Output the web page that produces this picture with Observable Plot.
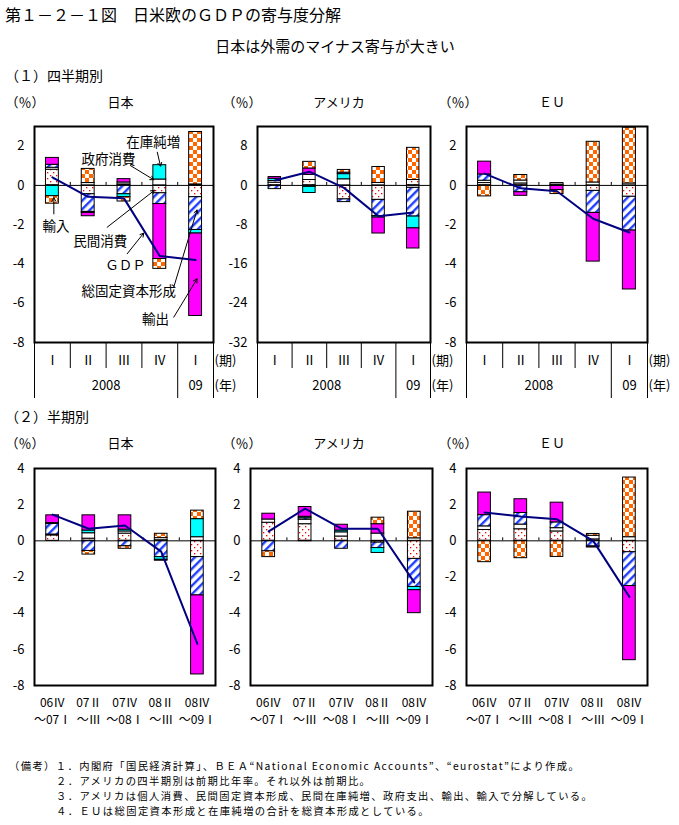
<!DOCTYPE html>
<html><head><meta charset="utf-8">
<script src="https://cdn.jsdelivr.net/npm/d3@7"></script>
<script src="https://cdn.jsdelivr.net/npm/@observablehq/plot@0.6"></script>
<style>
body{margin:0;background:#fff;}
#root{position:relative;width:679px;height:825px;background:#fff;overflow:hidden;font-family:"Noto Sans CJK JP",sans-serif;color:#000;}
.t{position:absolute;white-space:nowrap;line-height:1;}
</style></head><body>
<svg width="0" height="0" style="position:absolute"><defs>
<pattern id="checker" width="8" height="8" patternUnits="userSpaceOnUse">
<rect width="8" height="8" fill="white"/><rect width="4" height="4" fill="#FF6600"/><rect x="4" y="4" width="4" height="4" fill="#FF6600"/>
</pattern>
<pattern id="hatch" width="6" height="6" patternUnits="userSpaceOnUse" patternTransform="rotate(45)">
<rect width="6" height="6" fill="white"/><rect width="2.4" height="6" fill="#1F3FFF"/>
</pattern>
<pattern id="dots" width="6" height="6" patternUnits="userSpaceOnUse">
<rect width="6" height="6" fill="white"/><rect x="1" y="1" width="1.3" height="1.3" fill="#FF0000"/><rect x="4" y="4" width="1.3" height="1.3" fill="#FF0000"/>
</pattern>
</defs></svg>
<div id="root"></div>
<script>
// ---- components (stack order) ----
const comps = ["民間消費","政府消費","総固定資本形成","在庫純増","輸出","輸入"];

// ---- (1) quarterly: Japan ----
const jpQ_pc   = [0.8, -0.45, 0.05, -0.4, -0.6];
const jpQ_gov  = [0.1, 0.12, 0.1, 0.3, 0.05];
const jpQ_gfcf = [0.15, -0.9, -0.45, -0.55, -1.67];
const jpQ_inv  = [-0.55, -0.05, -0.15, 0.73, -0.18];
const jpQ_exp  = [0.35, -0.17, 0.17, -2.8, -4.2];
const jpQ_imp  = [-0.38, 0.72, -0.22, -0.5, 2.67];
const jpQ_gdp  = [0.41, -0.58, -0.66, -3.6, -3.8];
// ---- (1) quarterly: USA (annualized) ----
const usQ_pc   = [0.55, 1.1, -2.85, -2.95, 1.1];
const usQ_gov  = [0.35, 1.05, 1.25, 0.5, -0.5];
const usQ_gfcf = [-0.75, -0.3, -0.55, -3.3, -5.85];
const usQ_inv  = [0.45, -1.25, 1.05, -0.3, -2.4];
const usQ_exp  = [0.35, 1.3, 0.3, -3.25, -4.1];
const usQ_imp  = [0, 1.35, 0.55, 3.25, 6.55];
const usQ_gdp  = [1.0, 2.8, -0.5, -6.3, -5.5];
// ---- (1) quarterly: EU ----
const euQ_pc   = [0.12, 0.1, 0.04, -0.28, -0.58];
const euQ_gov  = [0.12, 0.15, 0.08, 0.15, 0.1];
const euQ_gfcf = [0.32, -0.35, -0.03, -1.12, -1.72];
const euQ_inv  = [0, 0, 0, 0, 0];
const euQ_exp  = [0.65, -0.18, -0.21, -2.48, -3.0];
const euQ_imp  = [-0.56, 0.28, -0.2, 2.07, 2.84];
const euQ_gdp  = [0.6, -0.15, -0.3, -1.7, -2.4];

// ---- (2) half-year: Japan ----
const jpH_pc   = [0.3, 0.12, 0.4, 0.03, -0.9];
const jpH_gov  = [0.05, 0.3, 0.12, 0.12, 0.2];
const jpH_gfcf = [0.58, -0.56, -0.3, -0.9, -2.12];
const jpH_inv  = [0.05, 0.15, 0.1, -0.15, 1.0];
const jpH_exp  = [0.43, 0.84, 0.79, -0.05, -4.37];
const jpH_imp  = [0, -0.2, -0.14, 0.24, 0.47];
const jpH_gdp  = [1.45, 0.67, 0.85, -0.6, -5.7];
// ---- (2) half-year: USA ----
const usH_pc   = [1.0, 0.92, 0.24, -0.1, -1.0];
const usH_gov  = [0.18, 0.25, 0.23, 0.4, 0.14];
const usH_gfcf = [-0.58, 0.08, -0.44, -0.3, -1.55];
const usH_inv  = [0, 0.08, 0.1, -0.27, -0.18];
const usH_exp  = [0.32, 0.54, 0.32, 0.52, -1.27];
const usH_imp  = [-0.32, -0.02, 0, 0.36, 1.47];
const usH_gdp  = [0.52, 1.78, 0.67, 0.67, -2.3];
// ---- (2) half-year: EU ----
const euH_pc   = [0.6, 0.64, 0.52, 0.08, -0.63];
const euH_gov  = [0.2, 0.26, 0.18, 0.2, 0.2];
const euH_gfcf = [0.62, 0.64, 0.32, -0.31, -1.87];
const euH_inv  = [0, 0, 0, 0, 0];
const euH_exp  = [1.25, 0.76, 1.09, -0.06, -4.1];
const euH_imp  = [-1.18, -0.96, -0.89, 0.1, 3.3];
const euH_gdp  = [1.57, 1.35, 1.19, 0.0, -3.1];

// ---- tick / category labels ----
const qLabels = ["Ⅰ","Ⅱ","Ⅲ","Ⅳ","Ⅰ"];
const yearLabels = ["2008","09"];
const yearFrom = [0, 4];
const yearTo = [4, 5];
const hLabels1 = ["06Ⅳ","07Ⅱ","07Ⅳ","08Ⅱ","08Ⅳ"];
const hLabels2 = ["～07Ⅰ","～Ⅲ","～08Ⅰ","～Ⅲ","～09Ⅰ"];
const ticksJE = [2,0,-2,-4,-6,-8];
const ticksUS = [8,0,-8,-16,-24,-32];
const ticksH = [4,2,0,-2,-4,-6,-8];

// ---- annotation (Japan quarterly) ----
const annLabels = ["在庫純増","政府消費","輸入","民間消費","ＧＤＰ","総固定資本形成","輸出"];
const annTextX = [3.32, 2.07, 0.6, 1.84, 2.54, 2.63, 3.38];
const annTextY = [2.2, 1.32, -2.09, -2.84, -4.08, -5.4, -6.83];
const annX1 = [3.43, 2.68, 0.54, 2.03, 2.59, 3.89, 3.89];
const annY1 = [1.69, 1.01, -1.45, -2.13, -3.48, -5.18, -6.71];
const annX2 = [3.52, 3.33, 0.54, 3.35, 3.05, 4.54, 4.54];
const annY2 = [0.98, 0.29, -0.63, -0.25, -2.43, -1.25, -4.76];

// ---- styles ----
const compFill = ["url(#dots)","white","url(#hatch)","#00FFFF","#FF00FF","url(#checker)"];
const FONT = '"Noto Sans CJK JP", sans-serif';
const root = document.getElementById("root");

function stack(values) {
  const segs = [];
  for (let i = 0; i < values[0].length; i++) {
    let pos = 0, neg = 0;
    comps.forEach((c, k) => {
      const v = values[k][i];
      if (!v) return;
      if (v > 0) { segs.push({i, k, y1: pos, y2: pos + v}); pos += v; }
      else { segs.push({i, k, y1: neg + v, y2: neg}); neg += v; }
    });
  }
  return segs;
}

function panel(o) {
  const ml = 45, mr = 48, mt = 12, mb = 64;
  const segs = stack(o.values);
  const ymin = o.yDomain[0];
  const marks = [
    Plot.rect(segs, {x1: d => d.i + 0.5 - o.bw, x2: d => d.i + 0.5 + o.bw, y1: d => d.y1, y2: d => d.y2,
      fill: d => compFill[d.k], stroke: "black", strokeWidth: 1}),
    Plot.ruleY([0], {stroke: "black", strokeWidth: 1}),
    Plot.ruleX([1,2,3,4], {x: d => d, y1: () => 0, y2: () => 0, insetTop: -3, stroke: "black"}),
    Plot.line(o.gdp, {x: (d, i) => i + 0.5, y: d => d, stroke: "#000080", strokeWidth: 2}),
    Plot.frame({stroke: "black", strokeWidth: 2}),
    ...(o.extra ? o.extra(ymin) : [])
  ];
  const p = Plot.plot({
    width: o.fw + ml + mr, height: o.fh + mt + mb,
    marginLeft: ml, marginRight: mr, marginTop: mt, marginBottom: mb,
    x: {domain: [0, 5], axis: null},
    y: {domain: o.yDomain, ticks: o.yTicks, tickSize: 0, tickPadding: 10, tickFormat: d => String(d), label: null},
    color: {type: "identity"},
    style: {background: "transparent", overflow: "visible", fontFamily: FONT, fontSize: "13px", color: "black"},
    marks
  });
  p.style.position = "absolute";
  p.style.left = (o.fl - ml) + "px";
  p.style.top = (o.ft - mt) + "px";
  root.appendChild(p);
}

function quarterAxis(ymin) {
  return [
    Plot.text(qLabels, {x: (d, i) => i + 0.5, y: () => ymin, dy: 18, text: d => d, fontSize: 13}),
    Plot.text(yearLabels, {x: (d, i) => (yearFrom[i] + yearTo[i]) / 2, y: () => ymin, dy: 43, text: d => d, fontSize: 13}),
    Plot.ruleX([1,2,3], {x: d => d, y1: () => ymin, y2: () => ymin, insetBottom: -26, stroke: "black"}),
    Plot.ruleX([0,4,5], {x: d => d, y1: () => ymin, y2: () => ymin, insetBottom: -56, stroke: "black"}),
    Plot.text(["(期)"], {x: () => 5, y: () => ymin, dy: 18, dx: 1, text: d => d, textAnchor: "start", fontSize: 13}),
    Plot.text(["(年)"], {x: () => 5, y: () => ymin, dy: 43, dx: 1, text: d => d, textAnchor: "start", fontSize: 13})
  ];
}
function halfAxis(ymin) {
  return [
    Plot.text(hLabels1, {x: (d, i) => i + 0.5, y: () => ymin, dy: 18, text: d => d, fontSize: 12}),
    Plot.text(hLabels2, {x: (d, i) => i + 0.5, y: () => ymin, dy: 35, text: d => d, fontSize: 12})
  ];
}
function jpAnnotations() {
  const idx = d3.range(annLabels.length);
  return [
    Plot.arrow(idx, {x1: i => annX1[i], y1: i => annY1[i], x2: i => annX2[i], y2: i => annY2[i], stroke: "black", strokeWidth: 1, headLength: 6}),
    Plot.text(idx, {x: i => annTextX[i], y: i => annTextY[i], text: i => annLabels[i], fontSize: 13.5, fill: "black"})
  ];
}

// ---- top row ----
panel({values: [jpQ_pc, jpQ_gov, jpQ_gfcf, jpQ_inv, jpQ_exp, jpQ_imp], gdp: jpQ_gdp, yDomain: [-8, 3], yTicks: ticksJE,
  fl: 34, ft: 126, fw: 179, fh: 216, bw: 0.18, extra: y => [...quarterAxis(y), ...jpAnnotations()]});
panel({values: [usQ_pc, usQ_gov, usQ_gfcf, usQ_inv, usQ_exp, usQ_imp], gdp: usQ_gdp, yDomain: [-32, 12], yTicks: ticksUS,
  fl: 257, ft: 126, fw: 173, fh: 216, bw: 0.18, extra: quarterAxis});
panel({values: [euQ_pc, euQ_gov, euQ_gfcf, euQ_inv, euQ_exp, euQ_imp], gdp: euQ_gdp, yDomain: [-8, 3], yTicks: ticksJE,
  fl: 466, ft: 126, fw: 181, fh: 216, bw: 0.18, extra: quarterAxis});
// ---- bottom row ----
panel({values: [jpH_pc, jpH_gov, jpH_gfcf, jpH_inv, jpH_exp, jpH_imp], gdp: jpH_gdp, yDomain: [-8, 4], yTicks: ticksH,
  fl: 34, ft: 468, fw: 181, fh: 217, bw: 0.175, extra: halfAxis});
panel({values: [usH_pc, usH_gov, usH_gfcf, usH_inv, usH_exp, usH_imp], gdp: usH_gdp, yDomain: [-8, 4], yTicks: ticksH,
  fl: 250, ft: 468, fw: 182, fh: 217, bw: 0.175, extra: halfAxis});
panel({values: [euH_pc, euH_gov, euH_gfcf, euH_inv, euH_exp, euH_imp], gdp: euH_gdp, yDomain: [-8, 4], yTicks: ticksH,
  fl: 466, ft: 468, fw: 181, fh: 217, bw: 0.175, extra: halfAxis});

// ---- texts ----
function addText(str, x, cy, size, anchor, spacing) {
  const d = document.createElement("div");
  d.className = "t";
  d.textContent = str;
  d.style.fontSize = size + "px";
  if (spacing) d.style.letterSpacing = spacing + "px";
  d.style.top = (cy - 0.55 * size) + "px";
  d.style.left = x + "px";
  if (anchor === "middle") d.style.transform = "translateX(-50%)";
  root.appendChild(d);
}
addText("第１－２－１図　日米欧のＧＤＰの寄与度分解", 5, 15, 16);
addText("日本は外需のマイナス寄与が大きい", 335, 46, 15, "middle");
addText("（１）四半期別", 5, 76, 14);
addText("（２）半期別", 5, 417, 14);
const headerY = [102, 443];
headerY.forEach(cy => {
  addText("（％）", 5.5, cy, 13);
  addText("日本", 120.5, cy, 13, "middle");
  addText("（％）", 222.5, cy, 13);
  addText("アメリカ", 339, cy, 13, "middle");
  addText("（％）", 438.5, cy, 13);
  addText("ＥＵ", 552, cy, 13, "middle");
});
const notes = [
  "（備考）１．内閣府「国民経済計算」、ＢＥＡ“National Economic Accounts”、“eurostat”により作成。",
  "２．アメリカの四半期別は前期比年率。それ以外は前期比。",
  "３．アメリカは個人消費、民間固定資本形成、民間在庫純増、政府支出、輸出、輸入で分解している。",
  "４．ＥＵは総固定資本形成と在庫純増の合計を総資本形成としている。"
];
const noteY = [767, 782, 797, 812];
notes.forEach((n, i) => addText(n, i === 0 ? 9 : 56, noteY[i], 10.3, null, 1.4));
</script>
</body></html>
